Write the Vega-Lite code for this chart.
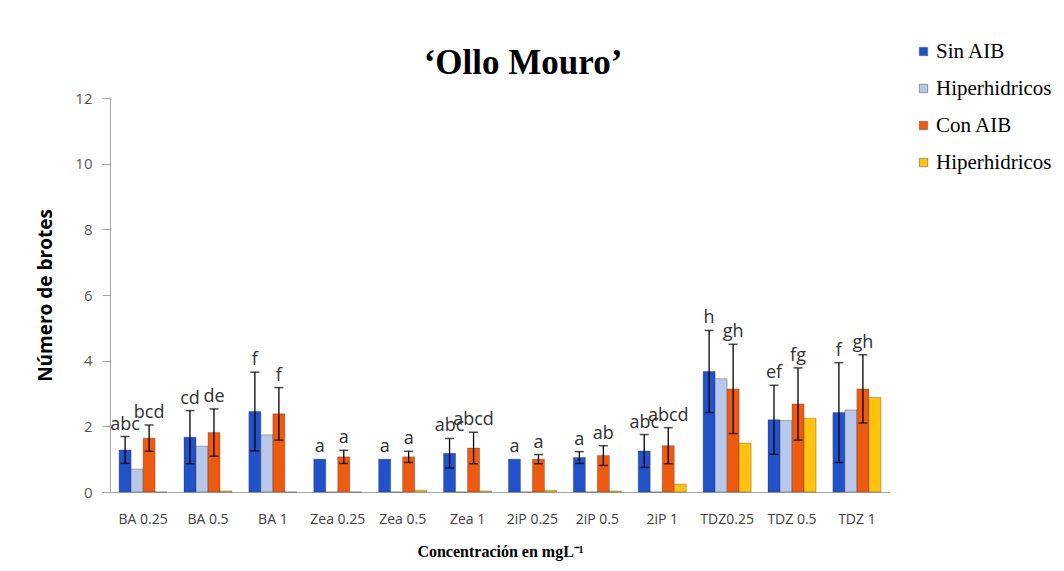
{
  "$schema": "https://vega.github.io/schema/vega-lite/v6.json",
  "width": 780,
  "height": 394,
  "autosize": "none",
  "padding": {"left": 110, "top": 98, "right": 174, "bottom": 79},
  "background": "white",
  "view": {"stroke": null},
  "title": {
    "text": "‘Ollo Mouro’",
    "font": "Liberation Serif",
    "fontSize": 35,
    "fontWeight": "bold",
    "color": "black",
    "anchor": "middle",
    "frame": "group",
    "dx": 23,
    "dy": 62,
    "offset": 22
  },
  "data": {
    "values": [
      {"conc": "BA 0.25", "serie": "Sin AIB", "valor": 1.28, "err": 0.41, "letra": "abc"},
      {"conc": "BA 0.25", "serie": "Hiperhidricos", "valor": 0.7},
      {"conc": "BA 0.25", "serie": "Con AIB", "valor": 1.64, "err": 0.4, "letra": "bcd"},
      {"conc": "BA 0.25", "serie": "Hiperhidricos con AIB", "valor": 0},
      {"conc": "BA 0.5", "serie": "Sin AIB", "valor": 1.67, "err": 0.81, "letra": "cd"},
      {"conc": "BA 0.5", "serie": "Hiperhidricos", "valor": 1.4},
      {"conc": "BA 0.5", "serie": "Con AIB", "valor": 1.81, "err": 0.72, "letra": "de"},
      {"conc": "BA 0.5", "serie": "Hiperhidricos con AIB", "valor": 0.03},
      {"conc": "BA 1", "serie": "Sin AIB", "valor": 2.45, "err": 1.2, "letra": "f"},
      {"conc": "BA 1", "serie": "Hiperhidricos", "valor": 1.74},
      {"conc": "BA 1", "serie": "Con AIB", "valor": 2.38, "err": 0.8, "letra": "f"},
      {"conc": "BA 1", "serie": "Hiperhidricos con AIB", "valor": 0},
      {"conc": "Zea 0.25", "serie": "Sin AIB", "valor": 1.0, "letra": "a"},
      {"conc": "Zea 0.25", "serie": "Hiperhidricos", "valor": 0},
      {"conc": "Zea 0.25", "serie": "Con AIB", "valor": 1.07, "err": 0.2, "letra": "a"},
      {"conc": "Zea 0.25", "serie": "Hiperhidricos con AIB", "valor": 0},
      {"conc": "Zea 0.5", "serie": "Sin AIB", "valor": 1.0, "letra": "a"},
      {"conc": "Zea 0.5", "serie": "Hiperhidricos", "valor": 0},
      {"conc": "Zea 0.5", "serie": "Con AIB", "valor": 1.07, "err": 0.17, "letra": "a"},
      {"conc": "Zea 0.5", "serie": "Hiperhidricos con AIB", "valor": 0.05},
      {"conc": "Zea 1", "serie": "Sin AIB", "valor": 1.18, "err": 0.45, "letra": "abc"},
      {"conc": "Zea 1", "serie": "Hiperhidricos", "valor": 0},
      {"conc": "Zea 1", "serie": "Con AIB", "valor": 1.34, "err": 0.48, "letra": "abcd"},
      {"conc": "Zea 1", "serie": "Hiperhidricos con AIB", "valor": 0.03},
      {"conc": "2iP 0.25", "serie": "Sin AIB", "valor": 1.0, "letra": "a"},
      {"conc": "2iP 0.25", "serie": "Hiperhidricos", "valor": 0},
      {"conc": "2iP 0.25", "serie": "Con AIB", "valor": 1.0, "err": 0.14, "letra": "a"},
      {"conc": "2iP 0.25", "serie": "Hiperhidricos con AIB", "valor": 0.05},
      {"conc": "2iP 0.5", "serie": "Sin AIB", "valor": 1.05, "err": 0.18, "letra": "a"},
      {"conc": "2iP 0.5", "serie": "Hiperhidricos", "valor": 0},
      {"conc": "2iP 0.5", "serie": "Con AIB", "valor": 1.11, "err": 0.3, "letra": "ab"},
      {"conc": "2iP 0.5", "serie": "Hiperhidricos con AIB", "valor": 0.03},
      {"conc": "2iP 1", "serie": "Sin AIB", "valor": 1.25, "err": 0.5, "letra": "abc"},
      {"conc": "2iP 1", "serie": "Hiperhidricos", "valor": 0},
      {"conc": "2iP 1", "serie": "Con AIB", "valor": 1.41, "err": 0.55, "letra": "abcd"},
      {"conc": "2iP 1", "serie": "Hiperhidricos con AIB", "valor": 0.24},
      {"conc": "TDZ0.25", "serie": "Sin AIB", "valor": 3.67, "err": 1.25, "letra": "h"},
      {"conc": "TDZ0.25", "serie": "Hiperhidricos", "valor": 3.45},
      {"conc": "TDZ0.25", "serie": "Con AIB", "valor": 3.14, "err": 1.36, "letra": "gh"},
      {"conc": "TDZ0.25", "serie": "Hiperhidricos con AIB", "valor": 1.49},
      {"conc": "TDZ 0.5", "serie": "Sin AIB", "valor": 2.2, "err": 1.05, "letra": "ef"},
      {"conc": "TDZ 0.5", "serie": "Hiperhidricos", "valor": 2.18},
      {"conc": "TDZ 0.5", "serie": "Con AIB", "valor": 2.68, "err": 1.1, "letra": "fg"},
      {"conc": "TDZ 0.5", "serie": "Hiperhidricos con AIB", "valor": 2.25},
      {"conc": "TDZ 1", "serie": "Sin AIB", "valor": 2.42, "err": 1.52, "letra": "f"},
      {"conc": "TDZ 1", "serie": "Hiperhidricos", "valor": 2.5},
      {"conc": "TDZ 1", "serie": "Con AIB", "valor": 3.14, "err": 1.04, "letra": "gh"},
      {"conc": "TDZ 1", "serie": "Hiperhidricos con AIB", "valor": 2.88}
    ]
  },
  "encoding": {
    "x": {
      "field": "conc",
      "type": "nominal",
      "sort": null,
      "title": "Concentración en mgL⁻¹",
      "scale": {"paddingInner": 0.26, "paddingOuter": 0.14},
      "axis": {
        "labelAngle": 0,
        "labelFont": "Open Sans",
        "labelFontSize": 14,
        "labelColor": "#404040",
        "ticks": false,
        "labelPadding": 20,
        "domainColor": "#a6a6a6",
        "titleFont": "Liberation Serif",
        "titleFontSize": 16,
        "titleFontWeight": "bold",
        "titleColor": "black",
        "titlePadding": 17
      }
    },
    "xOffset": {
      "field": "serie",
      "type": "nominal",
      "scale": {
        "domain": ["Sin AIB", "Hiperhidricos", "Con AIB", "Hiperhidricos con AIB"],
        "paddingInner": 0,
        "paddingOuter": 0
      }
    }
  },
  "layer": [
    {
      "mark": {"type": "bar", "stroke": "#303030", "strokeWidth": 0.6, "strokeOpacity": 0.55},
      "encoding": {
        "y": {
          "field": "valor",
          "type": "quantitative",
          "title": "Número de brotes",
          "scale": {"domain": [0, 12]},
          "axis": {
            "values": [0, 2, 4, 6, 8, 10, 12],
            "grid": false,
            "domainColor": "#a6a6a6",
            "tickColor": "#a6a6a6",
            "tickSize": 8,
            "labelColor": "#595959",
            "labelFont": "Open Sans",
            "labelFontSize": 15,
            "labelPadding": 10,
            "titleFont": "Open Sans",
            "titleFontSize": 19,
            "titleFontWeight": "bold",
            "titleColor": "black",
            "titlePadding": 19
          }
        },
        "color": {
          "field": "serie",
          "type": "nominal",
          "scale": {
            "domain": ["Sin AIB", "Hiperhidricos", "Con AIB", "Hiperhidricos con AIB"],
            "range": ["#2152c9", "#b8c8ea", "#ee5b10", "#ffc20e"]
          },
          "legend": {
            "orient": "none",
            "legendX": 803,
            "legendY": -57,
            "title": null,
            "symbolType": "square",
            "symbolSize": 70,
            "symbolStrokeWidth": 0.6,
            "symbolStrokeColor": "#606060",
            "labelFont": "Liberation Serif",
            "labelFontSize": 21,
            "labelColor": "black",
            "rowPadding": 15,
            "labelOffset": 2,
            "labelExpr": "datum.label == 'Hiperhidricos con AIB' ? 'Hiperhidricos' : datum.label"
          }
        }
      }
    },
    {
      "transform": [
        {"filter": "isValid(datum.err)"},
        {"calculate": "datum.valor - datum.err", "as": "lo"},
        {"calculate": "datum.valor + datum.err", "as": "hi"}
      ],
      "layer": [
        {
          "mark": {"type": "rule", "color": "black", "strokeWidth": 1.3},
          "encoding": {
            "y": {"field": "lo", "type": "quantitative", "title": "Número de brotes"},
            "y2": {"field": "hi"}
          }
        },
        {
          "mark": {"type": "tick", "color": "black", "size": 9, "thickness": 1.5},
          "encoding": {"y": {"field": "lo", "type": "quantitative", "title": "Número de brotes"}}
        },
        {
          "mark": {"type": "tick", "color": "black", "size": 9, "thickness": 1.5},
          "encoding": {"y": {"field": "hi", "type": "quantitative", "title": "Número de brotes"}}
        }
      ]
    },
    {
      "transform": [
        {"filter": "isValid(datum.letra)"},
        {"calculate": "datum.valor + (isValid(datum.err) ? datum.err : 0)", "as": "tope"}
      ],
      "mark": {"type": "text", "baseline": "bottom", "dy": -3, "font": "Open Sans", "fontSize": 18, "color": "#303030"},
      "encoding": {
        "y": {"field": "tope", "type": "quantitative", "title": "Número de brotes"},
        "text": {"field": "letra"}
      }
    }
  ]
}
